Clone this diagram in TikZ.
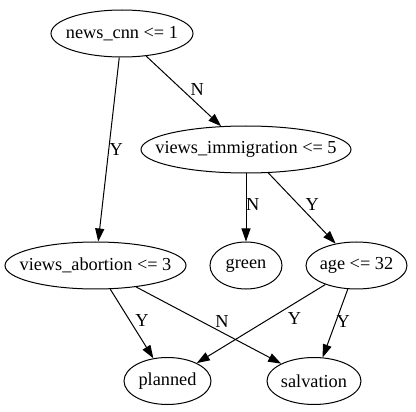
\documentclass[tikz,border=0pt]{standalone}
\usepackage{fontspec}
\setmainfont{Liberation Serif}
\usetikzlibrary{shapes.geometric, arrows.meta}

\newcommand{\nodetext}[1]{\makebox[0pt]{#1}}

\begin{document}
\begin{tikzpicture}[x=1pt,y=-1pt,
    test/.style={ellipse, draw, line width=1pt, inner sep=0pt, minimum height=47pt,
      font=\fontsize{18.3}{22}\selectfont},
    edge/.style={-{Triangle[length=13pt,width=9pt]}, line width=1pt},
    lbl/.style={font=\fontsize{18.3}{22}\selectfont, inner sep=0.5pt}]
  \useasboundingbox (0,0) rectangle (416,412);

  % --- tree nodes ---
  \node[test, minimum width=142pt] (cnn)   at (122,33.5)  {\nodetext{news\_cnn <= 1}};
  \node[test, minimum width=210pt] (immig) at (246,149.5) {\nodetext{views\_immigration <= 5}};
  \node[test, minimum width=181pt] (abort) at (95.5,265.5) {\nodetext{views\_abortion <= 3}};
  \node[test, minimum width=72pt]  (green) at (246,265.5) {\nodetext{green}};
  \node[test, minimum width=101pt] (age)   at (356.5,265.5) {\nodetext{age <= 32}};
  \node[test, minimum width=87pt]  (plan)  at (167.5,381) {\nodetext{planned}};
  \node[test, minimum width=94pt]  (salv)  at (314,381)   {\nodetext{salvation}};

  % --- branches ---
  \draw[edge] (cnn)   -- node[lbl, pos=0.5,  anchor=west] {Y} (abort);
  \draw[edge] (cnn)   -- node[lbl, pos=0.58, anchor=south west] {N} (immig);
  \draw[edge] (immig) -- node[lbl, pos=0.46, anchor=west, xshift=-1pt] {N} (green);
  \draw[edge] (immig) -- node[lbl, pos=0.54, anchor=south west] {Y} (age);
  \draw[edge] (abort) -- node[lbl, pos=0.56, anchor=south west] {Y} (plan);
  \draw[edge] (abort) -- node[lbl, pos=0.54, anchor=south west] {N} (salv);
  \draw[edge] (age)   -- node[lbl, pos=0.30, anchor=north west, yshift=-3pt] {Y} (plan);
  \draw[edge] (age)   -- node[lbl, pos=0.48, anchor=west] {Y} (salv);
\end{tikzpicture}
\end{document}
